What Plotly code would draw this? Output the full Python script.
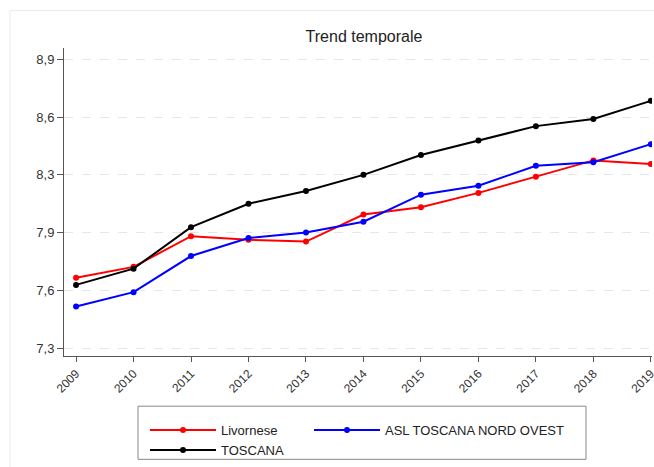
import plotly.graph_objects as go

years = [2009, 2010, 2011, 2012, 2013, 2014, 2015, 2016, 2017, 2018, 2019]
livornese = [7.69, 7.75, 7.92, 7.90, 7.89, 8.04, 8.08, 8.16, 8.25, 8.34, 8.32]
asl_tno = [7.53, 7.61, 7.81, 7.91, 7.94, 8.00, 8.15, 8.20, 8.31, 8.33, 8.43]
toscana = [7.65, 7.74, 7.97, 8.10, 8.17, 8.26, 8.37, 8.45, 8.53, 8.57, 8.67]

y_tickvals = [7.30, 7.62, 7.94, 8.26, 8.58, 8.90]
y_ticktext = ["7,3", "7,6", "7,9", "8,3", "8,6", "8,9"]
x_ticktext = [str(y) for y in years]

font_family = "Arial, Liberation Sans, sans-serif"

fig = go.Figure()
series = [("Livornese", livornese, "#ff0000", "legend"),
          ("ASL TOSCANA NORD OVEST", asl_tno, "#0000ff", "legend2"),
          ("TOSCANA", toscana, "#000000", "legend")]
for name, vals, col, leg in series:
    fig.add_trace(go.Scatter(x=years, y=vals, name=name, mode="lines+markers",
                             line=dict(color=col, width=2),
                             marker=dict(color=col, size=6),
                             legend=leg))

FW, FH = 654, 467
# plot area in pixels: x 64..652, y 48..361
L, R, T, B = 64, 652, 48, 361
W, H = R - L, B - T
def px(x):
    return (x - L) / W
def py(y):
    return (B - y) / H

legend_common = dict(orientation="v", yanchor="top", xanchor="left",
                     bgcolor="rgba(0,0,0,0)", borderwidth=0,
                     font=dict(size=13, color="#222222"),
                     tracegroupgap=0, itemwidth=66)

fig.update_layout(
    width=FW, height=FH,
    paper_bgcolor="white", plot_bgcolor="white",
    font=dict(family=font_family, size=13, color="#333333"),
    margin=dict(l=L, r=FW - R, t=T, b=FH - B),
    title=dict(text="Trend temporale", xref="paper", x=px(364), xanchor="center",
               yref="container", y=1 - 36 / FH, yanchor="middle",
               font=dict(size=16, color="#222222")),
    xaxis=dict(range=[2008.79, 2019.02], tickvals=years, ticktext=x_ticktext,
               tickangle=-45, showgrid=False, zeroline=False, automargin=False,
               ticklabeloverflow="allow",
               showline=True, linecolor="#555555", linewidth=1,
               ticks="outside", ticklen=5, tickcolor="#555555",
               tickfont=dict(size=12, color="#333333")),
    yaxis=dict(range=[7.256, 8.963], tickvals=y_tickvals, ticktext=y_ticktext,
               showgrid=True, gridcolor="#e6e6e6", griddash="dash", gridwidth=1,
               zeroline=False, showline=True, linecolor="#555555", linewidth=1,
               automargin=False,
               ticks="outside", ticklen=6, tickcolor="#555555",
               tickfont=dict(size=13, color="#333333")),
    legend=dict(x=px(145), y=py(421), **legend_common),
    legend2=dict(x=px(309), y=py(421), **legend_common),
    shapes=[
        dict(type="rect", xref="paper", yref="paper",
             x0=px(10), x1=px(700), y0=py(520), y1=py(10),
             line=dict(color="#ebebeb", width=1), fillcolor="rgba(0,0,0,0)",
             layer="below"),
        dict(type="rect", xref="paper", yref="paper",
             x0=px(138), x1=px(586), y0=py(466), y1=py(412),
             line=dict(color="#888888", width=1), fillcolor="rgba(0,0,0,0)"),
    ],
)

fig.write_html("out.html",
               config={"displayModeBar": False},
               post_script="document.body.style.margin='0';document.body.style.overflow='hidden';")
